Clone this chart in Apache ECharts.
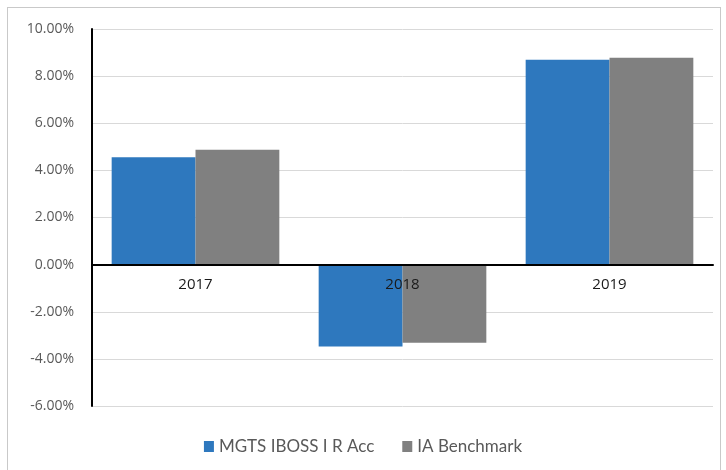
<!DOCTYPE html>
<html>
<head>
<meta charset="utf-8">
<script src="https://cdn.jsdelivr.net/npm/echarts@6/dist/echarts.min.js"></script>
<style>
  html, body { margin: 0; padding: 0; background: #fff; }
  #frame { position: absolute; left: 7px; top: 7px; width: 714px; height: 470px; border: 1px solid #c9c9c9; box-sizing: border-box; }
  #chart { position: absolute; left: 0; top: 0; width: 726px; height: 470px; }
</style>
</head>
<body>
<div id="frame"></div>
<div id="chart"></div>
<script>
// 年份
var years = ['2017', '2018', '2019'];
// 基金 vs 基准 收益率(%)
var fundReturns = [4.56, -3.47, 8.70];
var benchReturns = [4.88, -3.32, 8.78];
var seriesNames = ['MGTS IBOSS I R Acc', 'IA Benchmark'];
var yMin = -6, yMax = 10, yStep = 2;

var W = 726, H = 470;
var gridTop = 29, gridBottom = 64;
// x轴(含标签)放在0的位置
var plotH = H - gridTop - gridBottom;
var zeroOffset = -plotH * (0 - yMin) / (yMax - yMin);

var chart = echarts.init(document.getElementById('chart'), null, { renderer: 'canvas' });

var option = {
  animation: false,
  color: ['#2E78BE', '#808080'],
  grid: {
    left: 92,
    right: 13,
    top: gridTop,
    bottom: gridBottom
  },
  legend: {
    bottom: 10,
    left: 'center',
    itemWidth: 10,
    itemHeight: 11,
    itemGap: 28,
    icon: 'rect',
    textStyle: {
      fontFamily: 'Lato',
      fontSize: 17,
      color: '#595959'
    },
    data: seriesNames
  },
  xAxis: {
    type: 'category',
    data: years,
    offset: zeroOffset,
    z: 5,
    axisLine: { onZero: false, lineStyle: { color: '#000', width: 2 } },
    axisTick: { show: false },
    axisLabel: {
      margin: 13,
      fontFamily: 'Open Sans',
      fontSize: 15,
      color: '#1a1a1a'
    }
  },
  yAxis: {
    type: 'value',
    min: yMin,
    max: yMax,
    interval: yStep,
    axisLine: { show: true, lineStyle: { color: '#000', width: 2 } },
    axisTick: { show: false },
    axisLabel: {
      margin: 18,
      fontFamily: 'Open Sans',
      fontSize: 14,
      color: '#595959',
      formatter: function (v) {
        return v.toFixed(2) + '%';
      }
    },
    splitLine: { lineStyle: { color: '#d9d9d9', width: 1 } }
  },
  series: [{
    name: seriesNames[0],
    type: 'bar',
    data: fundReturns,
    barGap: '0%',
    barCategoryGap: '19%'
  }, {
    name: seriesNames[1],
    type: 'bar',
    data: benchReturns,
    barGap: '0%',
    barCategoryGap: '19%'
  }]
};

chart.setOption(option);
</script>
</body>
</html>
